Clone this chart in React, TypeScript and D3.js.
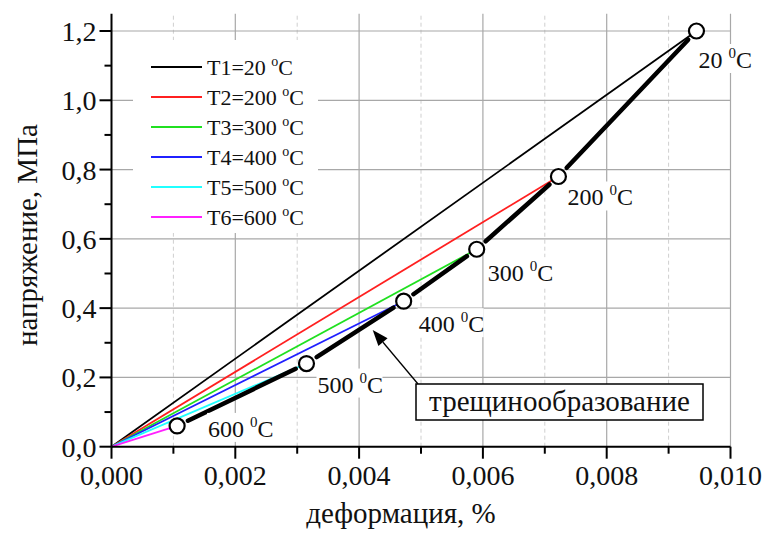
import React from "react";
import * as d3 from "d3";

const temps = [20, 200, 300, 400, 500, 600];
const crackStrain = [0.00945, 0.00722, 0.0059, 0.00472, 0.00315, 0.00106];
const crackStress = [1.2, 0.78, 0.57, 0.42, 0.24, 0.06];
const seriesNames = ["T1", "T2", "T3", "T4", "T5", "T6"];
const seriesColors = ["#000000", "#ff2020", "#20e020", "#2020ff", "#20ffff", "#ff20ff"];
const xTicks = [0, 0.002, 0.004, 0.006, 0.008, 0.01];
const yTicks = [0, 0.2, 0.4, 0.6, 0.8, 1.0, 1.2];
const labelOffsets: [number, number][] = [[2, 37], [9, 29], [11, 32], [15, 31], [11, 29], [31, 11]];
const annotationText = "трещинообразование";
const xTitle = "деформация, %";
const yTitle = "напряжение, МПа";

const W = 766, H = 536;
const FONT = "Liberation Serif";

export default function App() {
  const x = d3.scaleLinear().domain([0, 0.01]).range([111.5, 730.5]);
  const y = d3.scaleLinear().domain([0, 1.2]).range([446.7, 31]);
  const yTop = y(1.25);
  const fmtX = (v: number) => d3.format(".3f")(v).replace(".", ",");
  const fmtY = (v: number) => d3.format(".1f")(v).replace(".", ",");
  const xMinor = d3.range(0.001, 0.01, 0.002);
  const yMinor = d3.range(0.1, 1.25, 0.2);
  const line = d3.line<[number, number]>().x(d => x(d[0])).y(d => y(d[1]));

  const pts = crackStrain.map((s, i) => [x(s), y(crackStress[i])] as [number, number]);
  const gap = 12;
  const segs = pts.slice(0, -1).map((p, i) => {
    const q = pts[i + 1];
    const dx = q[0] - p[0], dy = q[1] - p[1];
    const L = Math.hypot(dx, dy);
    const ux = dx / L, uy = dy / L;
    return [p[0] + ux * gap, p[1] + uy * gap, q[0] - ux * gap, q[1] - uy * gap];
  });

  const tip: [number, number] = [x(0.00422), y(0.337)];
  const tail: [number, number] = [418, 384];
  const ang = Math.atan2(tip[1] - tail[1], tip[0] - tail[0]);
  const ah = 16, aw = 6;
  const base = [tip[0] - ah * Math.cos(ang), tip[1] - ah * Math.sin(ang)];
  const arrowPts = [
    tip,
    [base[0] + aw * Math.sin(ang), base[1] - aw * Math.cos(ang)],
    [base[0] - aw * Math.sin(ang), base[1] + aw * Math.cos(ang)],
  ].map(p => p.join(",")).join(" ");

  const ts = { fontFamily: FONT } as React.CSSProperties;

  return (
    <svg width={W} height={H} style={{ position: "absolute", left: 0, top: 0, background: "#fff", fontFamily: FONT }}>
      {xMinor.map(v => (
        <line key={"xm" + v} x1={x(v)} x2={x(v)} y1={y(0)} y2={yTop} stroke="#cfcfcf" strokeWidth={1} strokeDasharray="4,3" />
      ))}
      {xTicks.slice(1).map(v => (
        <line key={"xg" + v} x1={x(v)} x2={x(v)} y1={y(0)} y2={yTop} stroke="#a8a8a8" strokeWidth={1.2} />
      ))}
      {yTicks.slice(1).map(v => (
        <line key={"yg" + v} x1={x(0)} x2={x(0.01)} y1={y(v)} y2={y(v)} stroke="#a8a8a8" strokeWidth={1.2} />
      ))}

      <rect x={133} y={40} width={185} height={193} fill="#fff" />
      {seriesNames.map((n, i) => {
        const ly = 67 + i * 30;
        return (
          <g key={"lg" + n}>
            <line x1={151} x2={202} y1={ly} y2={ly} stroke={seriesColors[i]} strokeWidth={2} />
            <text x={207} y={ly + 8} fontSize={22} fill="#111" style={ts}>
              {`${n}=${temps[i]} `}
              <tspan fontSize={14} dy={-9}>o</tspan>
              <tspan dy={9}>C</tspan>
            </text>
          </g>
        );
      })}

      {crackStrain.map((s, i) => (
        <path key={"s" + i} d={line([[0, 0], [s, crackStress[i]]]) || ""} stroke={seriesColors[i]} strokeWidth={1.8} fill="none" />
      ))}

      {segs.map((s, i) => (
        <line key={"cs" + i} x1={s[0]} y1={s[1]} x2={s[2]} y2={s[3]} stroke="#000" strokeWidth={4.5} strokeLinecap="round" />
      ))}
      {pts.map((p, i) => (
        <circle key={"c" + i} cx={p[0]} cy={p[1]} r={7.5} fill="#fff" stroke="#000" strokeWidth={2.2} />
      ))}

      {pts.map((p, i) => {
        const lx = p[0] + labelOffsets[i][0];
        const ly = p[1] + labelOffsets[i][1];
        const w = temps[i] >= 100 ? 66 : 54;
        return (
          <g key={"pl" + i}>
            <rect x={lx - 1} y={ly - 24} width={w} height={29} fill="#fff" />
            <text x={lx} y={ly} fontSize={24} fill="#111" style={ts}>
              {`${temps[i]} `}
              <tspan fontSize={15} dy={-10}>0</tspan>
              <tspan dy={10}>C</tspan>
            </text>
          </g>
        );
      })}

      <line x1={tail[0]} y1={tail[1]} x2={base[0]} y2={base[1]} stroke="#000" strokeWidth={1.3} />
      <polygon points={arrowPts} fill="#000" />
      <rect x={416} y={384} width={287} height={36} fill="#fff" stroke="#000" strokeWidth={1.5} />
      <text x={559.5} y={411} fontSize={29} textAnchor="middle" fill="#111" style={ts}>{annotationText}</text>

      <line x1={x(0)} x2={x(0.01)} y1={y(0)} y2={y(0)} stroke="#000" strokeWidth={2} />
      <line x1={x(0)} x2={x(0)} y1={y(0)} y2={yTop} stroke="#000" strokeWidth={2} />
      {xTicks.map(v => (
        <g key={"xt" + v}>
          <line x1={x(v)} x2={x(v)} y1={y(0)} y2={y(0) + 12} stroke="#000" strokeWidth={2} />
          <text x={x(v)} y={y(0) + 38} fontSize={28} textAnchor="middle" fill="#111" style={ts}>{fmtX(v)}</text>
        </g>
      ))}
      {xMinor.map(v => (
        <line key={"xmt" + v} x1={x(v)} x2={x(v)} y1={y(0)} y2={y(0) + 7} stroke="#000" strokeWidth={2} />
      ))}
      {yTicks.map(v => (
        <g key={"yt" + v}>
          <line x1={x(0) - 12} x2={x(0)} y1={y(v)} y2={y(v)} stroke="#000" strokeWidth={2} />
          <text x={x(0) - 15} y={y(v) + 10} fontSize={28} textAnchor="end" fill="#111" style={ts}>{fmtY(v)}</text>
        </g>
      ))}
      {yMinor.map(v => (
        <line key={"ymt" + v} x1={x(0) - 7} x2={x(0)} y1={y(v)} y2={y(v)} stroke="#000" strokeWidth={2} />
      ))}

      <text x={401} y={523} fontSize={29} textAnchor="middle" fill="#111" style={ts}>{xTitle}</text>
      <text transform={`translate(37,235) rotate(-90)`} fontSize={29} textAnchor="middle" fill="#111" style={ts}>{yTitle}</text>
    </svg>
  );
}
